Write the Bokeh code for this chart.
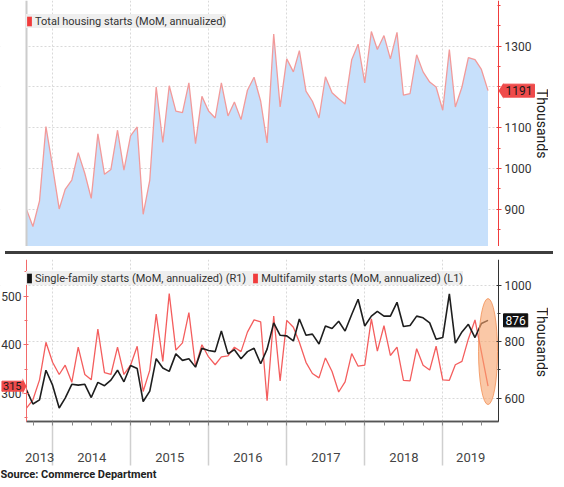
import math
import pandas as pd
from bokeh.plotting import figure
from bokeh.models import (Range1d, LinearAxis, FixedTicker, Legend, LegendItem, Label,
                          Grid, PolyAnnotation, Div, Span, BoxAnnotation)
from bokeh.layouts import column
from bokeh.embed import file_html
from bokeh.resources import INLINE

# ---------------- data ----------------
months = pd.date_range("2013-08-31", "2019-07-31", freq="ME")  # monthly, plotted at month end

total_starts = [900, 858, 921, 1103, 1005,
                901, 949, 972, 1039, 988, 927, 1085, 986, 998, 1094, 996, 1080,
                1102, 888, 972, 1200, 1064, 1203, 1141, 1137, 1210, 1061, 1177, 1141,
                1124, 1210, 1129, 1163, 1120, 1192, 1224, 1165, 1063, 1330, 1151, 1269,
                1237, 1289, 1190, 1165, 1124, 1225, 1186, 1171, 1158, 1267, 1305, 1210,
                1336, 1292, 1326, 1269, 1334, 1180, 1184, 1279, 1237, 1212, 1200, 1143,
                1292, 1151, 1200, 1272, 1267, 1243, 1191]

single_family = [629, 579, 594, 699, 646,
                 565, 600, 649, 646, 649, 602, 656, 644, 664, 699, 658, 716,
                 705, 588, 625, 740, 707, 695, 757, 734, 740, 710, 777, 769,
                 765, 838, 757, 772, 740, 765, 777, 722, 774, 867, 823, 821,
                 803, 881, 823, 827, 792, 856, 847, 873, 838, 897, 951, 856,
                 891, 908, 891, 891, 940, 854, 858, 891, 885, 867, 809, 815,
                 970, 795, 835, 862, 815, 865, 876]

multifamily = [270, 287, 328, 405, 364,
               339, 358, 323, 395, 339, 328, 432, 343, 339, 395, 339, 358,
               397, 304, 348, 463, 366, 505, 389, 404, 466, 355, 400, 375,
               359, 375, 377, 395, 386, 426, 451, 447, 285, 459, 326, 450,
               436, 405, 364, 341, 332, 373, 345, 303, 324, 382, 356, 358,
               453, 387, 439, 378, 395, 327, 326, 392, 358, 348, 397, 328,
               327, 359, 366, 412, 451, 385, 315]

years = ["2013", "2014", "2015", "2016", "2017", "2018", "2019"]
top_ticks = [900, 1000, 1100, 1200, 1300]
top_minor = [850, 900, 950, 1000, 1050, 1100, 1150, 1200, 1250, 1300, 1350, 1400]
left_ticks = [300, 400, 500]
left_minor = [250, 300, 350, 400, 450, 500, 550]
right_ticks = [600, 800, 1000]
right_minor = [600, 700, 800, 900, 1000]

last_total = total_starts[-1]
last_single = single_family[-1]
last_multi = multifamily[-1]

# ---------------- styling / geometry ----------------
FONT = "Roboto"
RED = "#f03c3c"
TAG_RED = "#ef4b4b"
TXT = "#333333"
GRID = "#d9d9d9"
W, H_TOP, H_BOT = 548, 246, 222
PL, PW = 26, 472            # plot-area left offset and width inside the canvas
BOT_PH = 162                # plot-area height of the lower panel
LEG_H = 28

TOP_Y = (809, 1412)
LEFT_Y = (242.5, 575)
RIGHT_Y = (517, 1092)


def ms(t):
    return pd.Timestamp(t).value / 1e6


xs_ms, xe_ms = ms("2013-08-31"), ms("2019-09-18")
mpp = (xe_ms - xs_ms) / PW
x_range = Range1d(xs_ms - PL * mpp, xe_ms + (W - PL - PW) * mpp)

year_bounds = [int(ms(f"{y}-01-01")) for y in years[1:]]
quarters = [int(ms(t)) for t in pd.date_range("2013-10-01", "2019-07-01", freq="QS")]
edges = [xs_ms] + year_bounds + [xe_ms]
year_mid = [int(round((edges[i] + edges[i + 1]) / 2)) for i in range(len(years))]

# lower panel ranges extended below the plot area for the time axis
lpp = (LEFT_Y[1] - LEFT_Y[0]) / BOT_PH
rpp = (RIGHT_Y[1] - RIGHT_Y[0]) / BOT_PH
extra = H_BOT - BOT_PH
left_range = Range1d(LEFT_Y[0] - extra * lpp, LEFT_Y[1])
right_range = Range1d(RIGHT_Y[0] - extra * rpp, RIGHT_Y[1])


def style_vaxis(ax, color, standoff):
    ax.axis_line_color = color
    ax.major_tick_line_color = color
    ax.minor_tick_line_color = color
    ax.major_tick_in, ax.major_tick_out = 2, 3
    ax.minor_tick_in, ax.minor_tick_out = 1, 2
    ax.major_label_text_font = FONT
    ax.major_label_text_font_size = "12px"
    ax.major_label_text_color = TXT
    ax.major_label_standoff = standoff


def mask(p, **kw):
    p.add_layout(BoxAnnotation(fill_color="white", fill_alpha=1, line_color=None,
                               level="underlay", **kw))


def tag(p, x, y, text, fill, text_color, left_side=False, font_size="12px",
        half_h=8, y_range_name="default", units_per_px=1.0, tip=5, pad=2):
    if left_side:
        xs = [x, x - tip * mpp, x - tip * mpp]
    else:
        xs = [x, x + tip * mpp, x + tip * mpp]
    ys = [y, y + half_h * units_per_px, y - half_h * units_per_px]
    p.add_layout(PolyAnnotation(xs=xs, ys=ys, y_range_name=y_range_name,
                                fill_color=fill, fill_alpha=1, line_color=None))
    p.add_layout(Label(x=x, y=y, y_range_name=y_range_name,
                       x_offset=-tip if left_side else tip, text=text,
                       text_font=FONT, text_font_size=font_size, text_color=text_color,
                       text_baseline="middle", text_align="right" if left_side else "left",
                       background_fill_color=fill, border_line_color=fill, padding=pad))


def thousands(p, y):
    p.add_layout(Label(x=xe_ms, y=y, x_offset=W - PL - PW - 7, text="Thousands",
                       angle=-math.pi / 2, text_font=FONT, text_font_size="14px",
                       text_color="#222222", text_align="center", text_baseline="middle"))


def legend(items, y_top, h, **kw):
    return Legend(items=items, location=(PL, h - y_top - LEG_H),
                  glyph_width=6, glyph_height=12,
                  background_fill_color="#eeeeee", background_fill_alpha=0.95,
                  border_line_color=None, label_text_font=FONT,
                  label_text_font_size="11px", label_text_color=TXT,
                  inactive_fill_alpha=0,
                  padding=7, margin=0, label_standoff=3, label_height=14, **kw)


def legend_swatch(p, color, y, **kw):
    # hidden one-point box whose only job is to give the legend its coloured swatch
    return p.quad(left=[months[-1]], right=[months[-1]], top=[y], bottom=[y],
                  fill_color=color, line_color=None, visible=False, **kw)


# ---------------- top panel ----------------
top = figure(width=W, height=H_TOP, x_range=x_range, y_range=Range1d(*TOP_Y),
             x_axis_location=None, y_axis_location=None, min_border=0, title=None,
             output_backend="svg", toolbar_location=None)
top.outline_line_color = None
top.grid.visible = False
top.add_layout(Grid(dimension=0, ticker=FixedTicker(ticks=year_bounds),
                    grid_line_color=GRID, grid_line_dash="2 2"))
top.add_layout(Grid(dimension=1, ticker=FixedTicker(ticks=top_ticks),
                    grid_line_color=GRID, grid_line_dash="2 2"))
mask(top, right=xs_ms)
mask(top, left=xe_ms)

# tick label hidden behind the last-value tag is left out
ya = LinearAxis(fixed_location=xe_ms,
                ticker=FixedTicker(ticks=[t for t in top_ticks if abs(t - last_total) > 20],
                                   minor_ticks=top_minor))
style_vaxis(ya, RED, 3)
top.add_layout(ya, "right")
top.add_layout(Span(location=xs_ms, dimension="height", line_color="#cccccc", line_width=2))

top.varea(x=months, y1=TOP_Y[0], y2=total_starts, fill_color="#c7e0fb")
top.line(x=months, y=total_starts, line_color="#f29a9a", line_width=1.3)

leg_top = legend_swatch(top, RED, last_total)
top.add_layout(legend([LegendItem(label="Total housing starts (MoM, annualized)",
                                  renderers=[leg_top])], 0, H_TOP))

tag(top, xe_ms, last_total, str(last_total), TAG_RED, "#1a1a1a",
    units_per_px=(TOP_Y[1] - TOP_Y[0]) / H_TOP)
thousands(top, 1110)

# ---------------- separator ----------------
sep = Div(width=W, height=3, styles={"background-color": "#3d3d3d"})

# ---------------- bottom panel ----------------
bot = figure(width=W, height=H_BOT, x_range=x_range, y_range=left_range,
             x_axis_location=None, y_axis_location=None, min_border=0, title=None,
             output_backend="svg", toolbar_location=None)
bot.extra_y_ranges = {"sf": right_range}
bot.outline_line_color = None
bot.grid.visible = False
bot.add_layout(Grid(dimension=0, ticker=FixedTicker(ticks=year_bounds),
                    grid_line_color=GRID, grid_line_dash="2 2"))
bot.add_layout(Grid(dimension=1, ticker=FixedTicker(ticks=right_ticks), y_range_name="sf",
                    grid_line_color=GRID, grid_line_dash="2 2"))
mask(bot, right=xs_ms)
mask(bot, left=xe_ms)
mask(bot, top=LEFT_Y[0])

la = LinearAxis(fixed_location=xs_ms, bounds=LEFT_Y,
                ticker=FixedTicker(ticks=left_ticks, minor_ticks=left_minor))
style_vaxis(la, "#f26a6a", 2)
bot.add_layout(la, "left")

ra = LinearAxis(fixed_location=xe_ms, y_range_name="sf", bounds=RIGHT_Y,
                ticker=FixedTicker(ticks=right_ticks, minor_ticks=right_minor))
style_vaxis(ra, "#333333", 3)
bot.add_layout(ra, "right")

# time axis: long year-boundary ticks + centred year labels with quarterly ticks
xa_long = LinearAxis(fixed_location=LEFT_Y[0], bounds=(xs_ms, xe_ms),
                     ticker=FixedTicker(ticks=[], minor_ticks=year_bounds))
xa_long.minor_tick_in, xa_long.minor_tick_out = 0, 44
xa_long.minor_tick_line_color = "#cfcfcf"
xa_long.minor_tick_line_width = 1.5
xa_long.axis_line_color = "#555555"
xa_long.axis_line_width = 1.5
bot.add_layout(xa_long, "below")

xa = LinearAxis(fixed_location=LEFT_Y[0], bounds=(xs_ms, xe_ms),
                ticker=FixedTicker(ticks=year_mid, minor_ticks=quarters),
                major_label_overrides=dict(zip(year_mid, years)))
xa.major_tick_in, xa.major_tick_out = 0, 0
xa.minor_tick_in, xa.minor_tick_out = 0, 4
xa.minor_tick_line_color = "#888888"
xa.axis_line_color = "#555555"
xa.axis_line_width = 1.5
xa.major_label_standoff = 27
xa.major_label_text_font = FONT
xa.major_label_text_font_size = "13px"
xa.major_label_text_color = "#444444"
bot.add_layout(xa, "below")

bot.line(x=months, y=multifamily, line_color="#f45e5e", line_width=1.3)
bot.line(x=months, y=single_family, y_range_name="sf", line_color="#1e1e1e", line_width=1.6)

bot.ellipse(x=[months[-1]], y=[386], width=19, height=106, width_units="screen",
            height_units="screen", fill_color="#f6a36c", fill_alpha=0.6,
            line_color="#f29055", line_alpha=0.8)

leg_sf = legend_swatch(bot, "#111111", last_single, y_range_name="sf")
leg_mf = legend_swatch(bot, RED, last_multi)
bot.add_layout(legend([LegendItem(label="Single-family starts (MoM, annualized) (R1)",
                                  renderers=[leg_sf]),
                       LegendItem(label="Multifamily starts (MoM, annualized) (L1)",
                                  renderers=[leg_mf])], -2, H_BOT,
                      orientation="horizontal", spacing=6))

tag(bot, xe_ms, last_single, str(last_single), "#111111", "white",
    y_range_name="sf", units_per_px=rpp)
tag(bot, xs_ms, last_multi, str(last_multi), TAG_RED, "#1a1a1a", left_side=True,
    font_size="11px", units_per_px=lpp, tip=4, pad=1)
thousands(bot, 405)

bot.add_layout(Label(x=0, y=7, x_units="screen", y_units="screen",
                     text="Source: Commerce Department", text_font=FONT,
                     text_font_size="11px", text_font_style="bold", text_color="#222222",
                     text_baseline="middle", text_align="left"))

layout = column(top, sep, bot, spacing=0)
open("out.html", "w").write(file_html(layout, INLINE))
